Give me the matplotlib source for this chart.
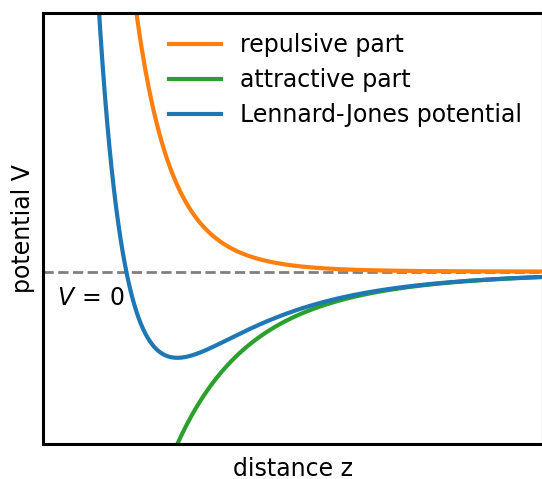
import numpy as np
import matplotlib
matplotlib.use("Agg")
import matplotlib.pyplot as plt

# Lennard-Jones parameters (reduced units)
epsilon = 1.0
sigma = 1.0

z_range = [0.8, 2.0]
v_range = [-2.0, 3.0]

labels = ["repulsive part", "attractive part", "Lennard-Jones potential"]
colors = ["tab:orange", "tab:green", "tab:blue"]

z = np.linspace(0.85, 2.05, 2000)
repulsive = 4 * epsilon * (sigma / z) ** 12
attractive = -4 * epsilon * (sigma / z) ** 6
lj = repulsive + attractive

fs = 17

fig = plt.figure(figsize=(5.42, 4.79), dpi=100)
ax = fig.add_axes([43 / 542, 35 / 479, 500 / 542, 431 / 479])

ax.axhline(0, color="gray", ls="--", lw=2)
for curve, label, color in zip([repulsive, attractive, lj], labels, colors):
    ax.plot(z, curve, color=color, lw=3, label=label)

ax.text(0.834, -0.31, r"$V\,=\,0$", fontsize=fs, ha="left", va="center")

ax.set_xlim(z_range)
ax.set_ylim(v_range)
ax.set_xticks([])
ax.set_yticks([])
ax.set_xlabel("distance z", fontsize=fs, labelpad=9)
ax.set_ylabel("potential V", fontsize=fs, labelpad=6)
for spine in ax.spines.values():
    spine.set_linewidth(2.2)

ax.legend(loc="upper right", bbox_to_anchor=(0.976, 0.975), frameon=False,
          fontsize=fs, borderaxespad=0, handlelength=2.2, labelspacing=0.47)

fig.savefig("out.png", dpi=100)
